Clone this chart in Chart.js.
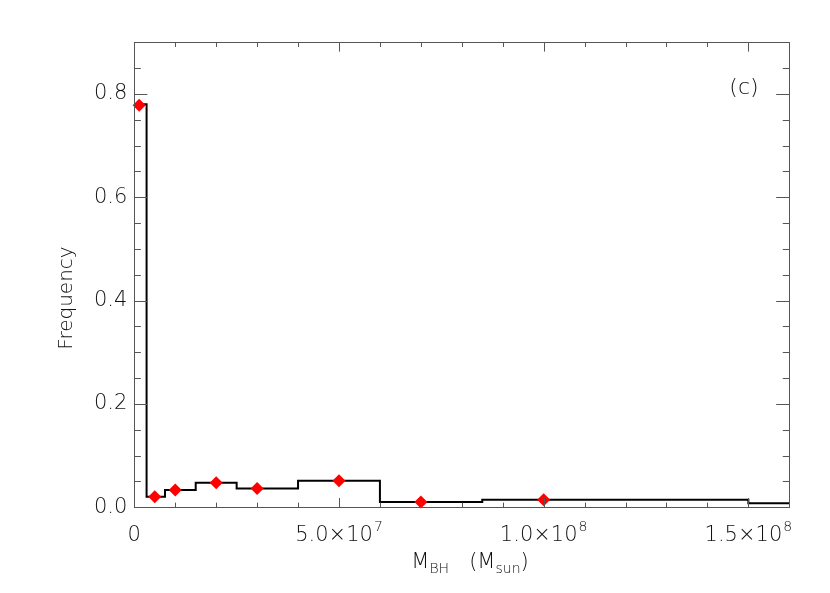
<!DOCTYPE html>
<html>
<head>
<meta charset="utf-8">
<script src="https://cdn.jsdelivr.net/npm/chart.js@4.4.1/dist/chart.umd.min.js"></script>
<style>
  html, body { margin: 0; padding: 0; background: #ffffff; }
  #wrap { width: 830px; height: 593px; }
</style>
</head>
<body>
<div id="wrap"><canvas id="c" width="830" height="593"></canvas></div>
<script>
// ---- data ----
const binEdges = [0, 3e6, 7.5e6, 1.5e7, 2.5e7, 4e7, 6e7, 8.5e7, 1.5e8, 1.6e8];
const binFreq  = [0.78, 0.0205, 0.0335, 0.0475, 0.0365, 0.0515, 0.0105, 0.0145, 0.0077];
const markerX  = [1.2e6, 5e6, 1e7, 2e7, 3e7, 5e7, 7e7, 1e8];
const markerY  = [0.778, 0.0205, 0.0335, 0.0475, 0.0365, 0.0515, 0.0105, 0.0145];
const xTickValues   = [0, 5e7, 1e8, 1.5e8];
const xTickMantissa = ['0', '5.0', '1.0', '1.5'];
const xTickExponent = ['', '7', '8', '8'];
const yTickValues = [0.0, 0.2, 0.4, 0.6, 0.8];
const yTickLabels = ['0.0', '0.2', '0.4', '0.6', '0.8'];
const xMinorStep = 1e7;
const yMinorStep = 0.05;
const panelLabel = '(c)';

const FONT = '"DejaVu Sans", sans-serif';
const WEIGHT = '200';
const TXT = '#111111';
const FRAME = '#555555';

const stepPts = binEdges.map((e, i) => ({x: e, y: binFreq[Math.min(i, binFreq.length - 1)]}));
const markPts = markerX.map((x, i) => ({x: x, y: markerY[i]}));

function f(size) { return WEIGHT + ' ' + size + 'px ' + FONT; }

const ticksPlugin = {
  id: 'idlTicks',
  afterDraw(chart) {
    const ctx = chart.ctx, a = chart.chartArea;
    const xs = chart.scales.x, ys = chart.scales.y;
    const W = a.right - a.left, H = a.bottom - a.top;
    ctx.save();
    ctx.strokeStyle = FRAME;
    ctx.lineWidth = 1;
    ctx.beginPath();
    for (let v = xs.min; v <= xs.max + 1; v += xMinorStep) {
      const px = Math.round(xs.getPixelForValue(v)) + 0.5;
      const major = xTickValues.some(t => Math.abs(t - v) < 1);
      const len = major ? 0.02 * H : 0.01 * H;
      ctx.moveTo(px, a.bottom); ctx.lineTo(px, a.bottom - len);
      ctx.moveTo(px, a.top); ctx.lineTo(px, a.top + len);
    }
    for (let k = 0; k * yMinorStep <= ys.max + 1e-9; k++) {
      const v = k * yMinorStep;
      const py = Math.round(ys.getPixelForValue(v)) + 0.5;
      const major = yTickValues.some(t => Math.abs(t - v) < 1e-9);
      const len = major ? 0.02 * W : 0.01 * W;
      ctx.moveTo(a.left, py); ctx.lineTo(a.left + len, py);
      ctx.moveTo(a.right, py); ctx.lineTo(a.right - len, py);
    }
    ctx.stroke();
    ctx.strokeRect(Math.round(a.left) + 0.5, Math.round(a.top) + 0.5,
                   Math.round(W), Math.round(H));

    ctx.fillStyle = TXT;

    // x tick labels with superscript exponents
    ctx.textAlign = 'left';
    ctx.textBaseline = 'alphabetic';
    const xBase = a.bottom + 34;
    xTickValues.forEach((v, i) => {
      const main = xTickMantissa[i] + (xTickExponent[i] ? '×10' : '');
      const sup = xTickExponent[i];
      ctx.font = f(21);
      const wm = ctx.measureText(main).width;
      ctx.font = f(14);
      const ws = sup ? ctx.measureText(sup).width + 1 : 0;
      let x0 = xs.getPixelForValue(v) - (wm + ws) / 2;
      ctx.font = f(21);
      ctx.fillText(main, x0, xBase);
      if (sup) {
        ctx.font = f(14);
        ctx.fillText(sup, x0 + wm + 1, xBase - 10);
      }
    });

    ctx.textAlign = 'center';
    ctx.textBaseline = 'middle';
    ctx.font = f(22);
    ctx.fillText(panelLabel, 744, 88);

    ctx.save();
    ctx.translate(67, 298);
    ctx.rotate(-Math.PI / 2);
    ctx.font = f(20);
    ctx.fillText('Frequency', 0, 0);
    ctx.restore();

    const parts = [
      ['M', 21, 0], ['BH', 14, 5], ['   (', 21, 0], ['M', 21, 0], ['sun', 14, 5], [')', 21, 0]
    ];
    ctx.textAlign = 'left';
    ctx.textBaseline = 'alphabetic';
    let total = 0;
    parts.forEach(p => { ctx.font = f(p[1]); total += ctx.measureText(p[0]).width; });
    let x0 = 470 - total / 2;
    const base = 568;
    parts.forEach(p => {
      ctx.font = f(p[1]);
      ctx.fillText(p[0], x0, base + p[2]);
      x0 += ctx.measureText(p[0]).width;
    });
    ctx.restore();
  }
};

new Chart(document.getElementById('c'), {
  type: 'scatter',
  data: {
    datasets: [
      {
        type: 'line',
        data: stepPts,
        stepped: 'before',
        borderColor: '#000000',
        borderWidth: 2,
        pointRadius: 0,
        fill: false,
        order: 2
      },
      {
        type: 'scatter',
        data: markPts,
        pointStyle: 'rectRot',
        pointRadius: 6.5,
        pointBackgroundColor: '#ff0000',
        pointBorderColor: '#ff0000',
        pointBorderWidth: 0,
        order: 1,
        clip: false
      }
    ]
  },
  options: {
    responsive: false,
    animation: false,
    layout: { padding: { left: 0, right: 40.7, top: 42.3, bottom: 0 } },
    plugins: { legend: { display: false }, tooltip: { enabled: false } },
    scales: {
      x: {
        type: 'linear',
        min: 0, max: 1.6e8,
        grid: { display: false, drawTicks: false },
        border: { display: false },
        afterBuildTicks(scale) { scale.ticks = xTickValues.map(v => ({value: v})); },
        afterFit(scale) { scale.height = 85.7; },
        ticks: { display: false }
      },
      y: {
        type: 'linear',
        min: 0, max: 0.9,
        grid: { display: false, drawTicks: false },
        border: { display: false },
        afterBuildTicks(scale) { scale.ticks = yTickValues.map(v => ({value: v})); },
        afterFit(scale) { scale.width = 134.3; },
        ticks: {
          autoSkip: false,
          padding: 7,
          color: TXT,
          font: { family: FONT, size: 21, weight: WEIGHT },
          callback: (v) => { const i = yTickValues.findIndex(t => Math.abs(t - v) < 1e-9); return i >= 0 ? yTickLabels[i] : ''; }
        }
      }
    }
  },
  plugins: [ticksPlugin]
});
</script>
</body>
</html>
